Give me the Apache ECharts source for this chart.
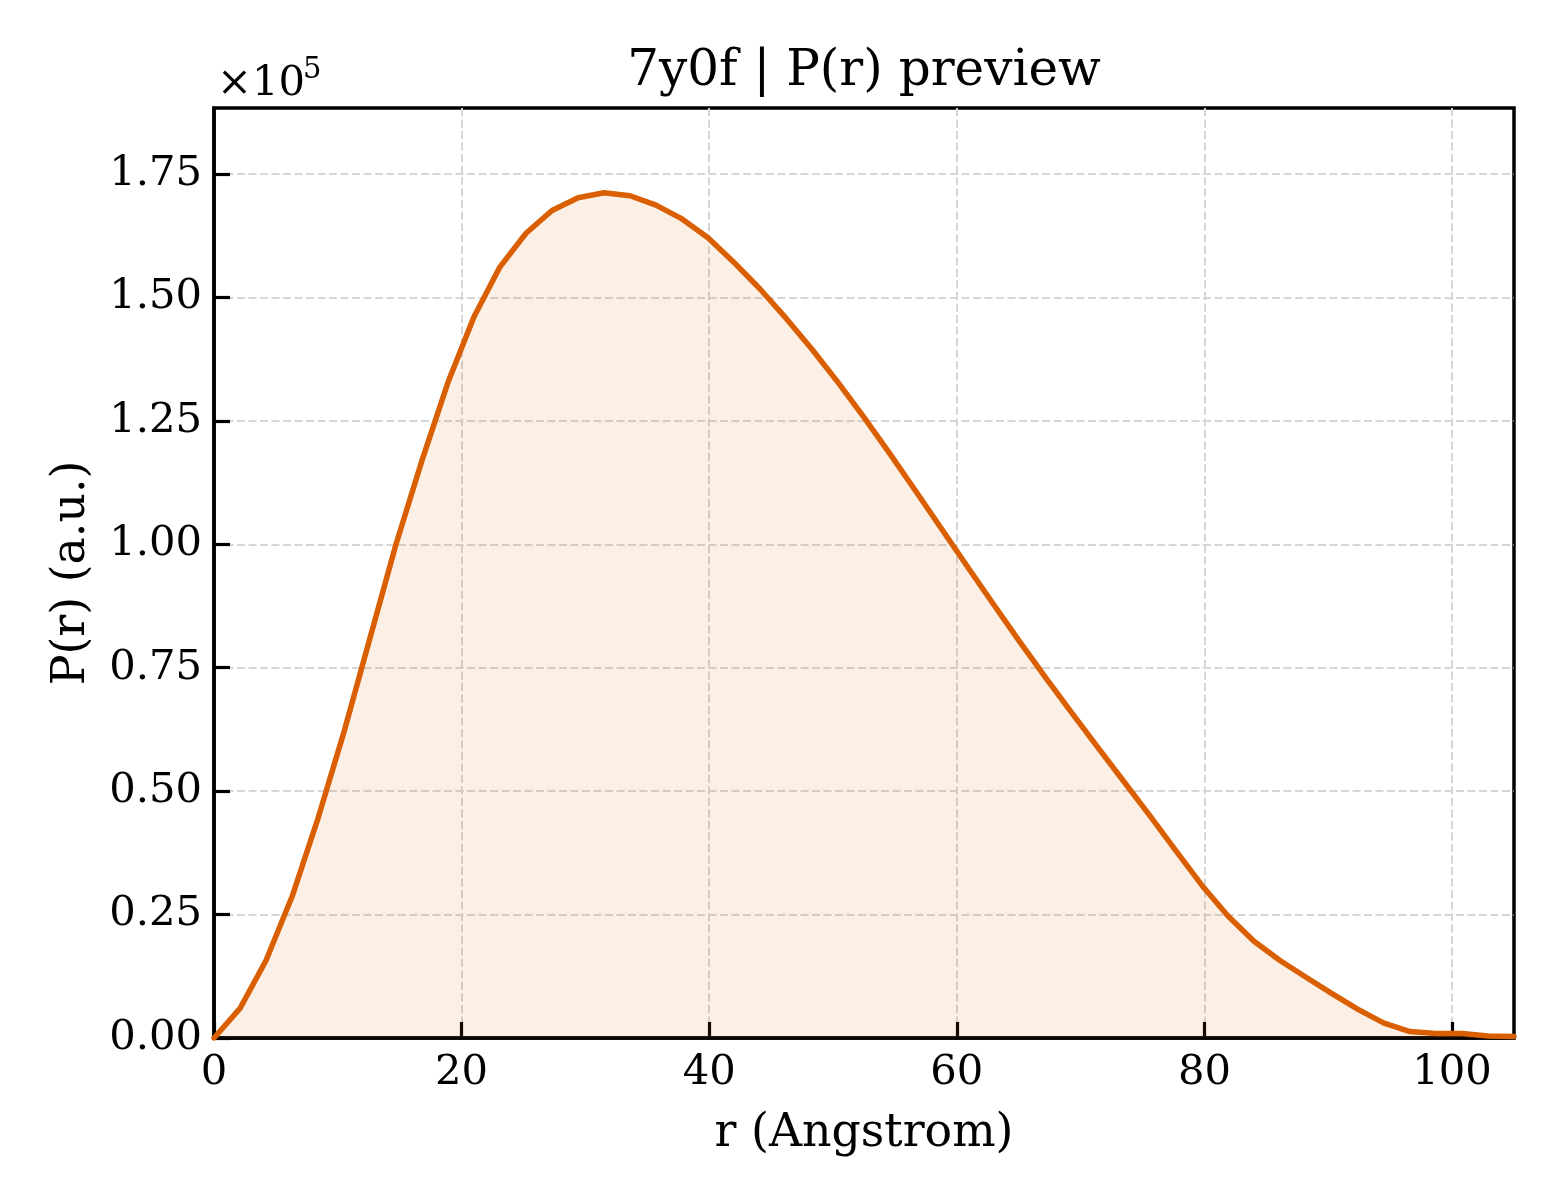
<!DOCTYPE html>
<html>
<head>
<meta charset="utf-8">
<script src="https://cdn.jsdelivr.net/npm/echarts@6/dist/echarts.min.js"></script>
<style>
html,body{margin:0;padding:0;background:#fff;}
#chart{width:1560px;height:1200px;}
</style>
</head>
<body>
<div id="chart"></div>
<script>
// r values (Angstrom)
const rValues = [0, 2.1, 4.2, 6.3, 8.4, 10.5, 12.6, 14.7, 16.8, 18.9,
  21.0, 23.1, 25.2, 27.3, 29.4, 31.5, 33.6, 35.7, 37.8, 39.9,
  42.0, 44.1, 46.2, 48.3, 50.4, 52.5, 54.6, 56.7, 58.8, 60.9,
  63.0, 65.1, 67.2, 69.3, 71.4, 73.5, 75.6, 77.7, 79.8, 81.9,
  84.0, 86.1, 88.2, 90.3, 92.4, 94.5, 96.6, 98.7, 100.8, 102.9, 105.0];
// P(r) values (a.u.)
const prValues = [0, 6000, 15700, 28600, 44500, 62000, 81000, 100000, 117000, 132800,
  146100, 156200, 163000, 167600, 170200, 171200, 170600, 168700, 165900, 162100,
  157100, 151700, 145800, 139500, 132800, 125700, 118300, 110700, 103000, 95300,
  87700, 80200, 72900, 65800, 58800, 51900, 45000, 37900, 30900, 24700,
  19600, 15700, 12300, 9000, 5800, 3000, 1300, 900, 900, 400, 300];
const xTicks = [0, 20, 40, 60, 80, 100];
const yTicks = [0, 25000, 50000, 75000, 100000, 125000, 150000, 175000];

const titleText = '7y0f | P(r) preview';
const xName = 'r (Angstrom)';
const yName = 'P(r) (a.u.)';

const FONT = 'DejaVu Serif';
const data = rValues.map((r, i) => [r, prValues[i]]);

const chart = echarts.init(document.getElementById('chart'), null, {renderer: 'canvas'});
chart.setOption({
  animation: false,
  backgroundColor: '#ffffff',
  grid: {
    left: 214, top: 108, width: 1300, height: 930,
    show: true, borderColor: '#000', borderWidth: 3.5, backgroundColor: 'transparent'
  },
  xAxis: {
    type: 'value', min: 0, max: 105, interval: 20,
    axisLine: {show: true, onZero: false, lineStyle: {color: '#000', width: 3.5}},
    axisTick: {show: true, inside: true, length: 16, lineStyle: {color: '#000', width: 3.2}, customValues: xTicks},
    axisLabel: {show: true, margin: 14, color: '#000', fontFamily: FONT, fontSize: 41.7, customValues: xTicks,
      formatter: v => String(v)},
    splitLine: {show: true, lineStyle: {color: '#d6d6d6', width: 2, type: [8, 3.5]}}
  },
  yAxis: {
    type: 'value', min: 0, max: 188370, interval: 25000,
    axisLine: {show: true, onZero: false, lineStyle: {color: '#000', width: 3.5}},
    axisTick: {show: true, inside: true, length: 16, lineStyle: {color: '#000', width: 3.2}, customValues: yTicks},
    axisLabel: {show: true, margin: 12, color: '#000', fontFamily: FONT, fontSize: 41.7, customValues: yTicks,
      formatter: v => (v / 1e5).toFixed(2)},
    splitLine: {show: true, lineStyle: {color: '#d6d6d6', width: 2, type: [8, 3.5]}}
  },
  series: [{
    type: 'line',
    data: data,
    symbol: 'none',
    smooth: false,
    clip: true,
    lineStyle: {color: '#D95F02', width: 5.5, join: 'round', cap: 'round'},
    areaStyle: {color: 'rgba(217,95,2,0.14)', origin: 'start'},
    z: 3
  }],
  graphic: [
    {type: 'text', x: 864, y: 72, style: {text: titleText, fontFamily: FONT, fontSize: 50, fill: '#000', align: 'center', verticalAlign: 'middle'}},
    {type: 'text', x: 864, y: 1134, style: {text: xName, fontFamily: FONT, fontSize: 45.8, fill: '#000', align: 'center', verticalAlign: 'middle'}},
    {type: 'text', x: 72, y: 573, rotation: Math.PI / 2, style: {text: yName, fontFamily: FONT, fontSize: 45.8, fill: '#000', align: 'center', verticalAlign: 'middle'}},
    {type: 'text', x: 217, y: 84, style: {text: '×10', fontFamily: FONT, fontSize: 41.7, fill: '#000', align: 'left', verticalAlign: 'middle'}},
    {type: 'text', x: 303, y: 70, style: {text: '5', fontFamily: FONT, fontSize: 29, fill: '#000', align: 'left', verticalAlign: 'middle'}}
  ]
});
</script>
</body>
</html>
